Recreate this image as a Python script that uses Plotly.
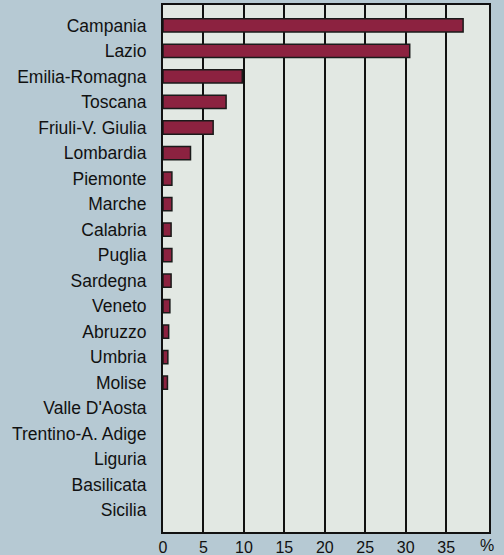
import plotly.graph_objects as go

regions = ["Campania", "Lazio", "Emilia-Romagna", "Toscana", "Friuli-V. Giulia",
           "Lombardia", "Piemonte", "Marche", "Calabria", "Puglia", "Sardegna",
           "Veneto", "Abruzzo", "Umbria", "Molise", "Valle D'Aosta",
           "Trentino-A. Adige", "Liguria", "Basilicata", "Sicilia"]
values = [37.1, 30.5, 9.8, 7.8, 6.2, 3.4, 1.1, 1.1, 1.0, 1.1, 1.0,
          0.85, 0.7, 0.6, 0.55, 0, 0, 0, 0, 0]
tick_vals = [0, 5, 10, 15, 20, 25, 30, 35]
tick_text = ["0", "5", "10", "15", "20", "25", "30", "35"]
unit_label = "%"

FONT = "Liberation Sans, Arial, sans-serif"

line_widths = [1.5 if v > 0 else 0 for v in values]

fig = go.Figure(go.Bar(
    x=values, y=regions, orientation="h",
    marker=dict(color="#8c2240", line=dict(color="#1a1a1a", width=line_widths)),
    width=0.52,
))

fig.update_layout(
    width=504, height=555,
    margin=dict(l=163, r=15, t=5, b=23, autoexpand=False),
    paper_bgcolor="#b6c9d3",
    plot_bgcolor="#e2e8e3",
    showlegend=False,
    font=dict(family=FONT, color="#111111", size=17),
)
fig.update_xaxes(
    range=[0, 40.3], tickvals=tick_vals, ticktext=tick_text,
    showgrid=True, gridcolor="#111111", gridwidth=1.5,
    showline=True, linecolor="#111111", linewidth=2, mirror=True,
    zeroline=False, ticks="", tickfont=dict(size=16), automargin=False,
    ticklabelstandoff=0,
)
fig.update_yaxes(
    categoryorder="array", categoryarray=regions, range=[19.85, -0.8],
    showgrid=False, showline=True, linecolor="#111111", linewidth=2, mirror=True,
    ticks="", ticklabelstandoff=11, tickfont=dict(size=17.5), automargin=False,
)
fig.add_annotation(x=40, y=0, xref="x", yref="paper", yanchor="top", yshift=-3,
                   text=unit_label, showarrow=False, font=dict(size=16))

fig.write_html(
    "out.html",
    config={"displayModeBar": False},
    post_script="document.body.style.margin='0';document.body.style.overflow='hidden';",
)
